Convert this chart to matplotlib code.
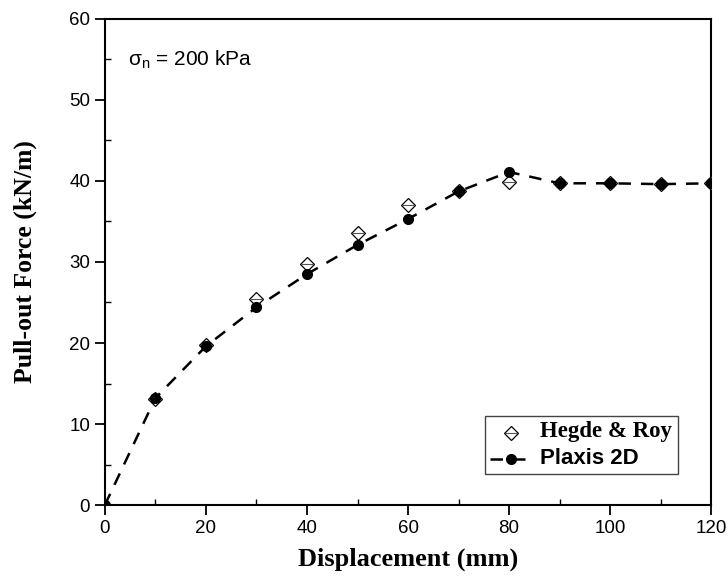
import matplotlib
matplotlib.use("Agg")
import matplotlib.pyplot as plt
from matplotlib.ticker import MultipleLocator

# data
disp_plaxis = [0, 10, 20, 30, 40, 50, 60, 70, 80, 90, 100, 110, 120]
force_plaxis = [0, 13.2, 19.6, 24.4, 28.5, 32.1, 35.3, 38.7, 41.1, 39.7, 39.7, 39.6, 39.7]
disp_hegde = [10, 20, 30, 40, 50, 60, 70, 80, 90, 100, 110, 120]
force_hegde = [13.1, 19.8, 25.4, 29.8, 33.6, 37.0, 38.8, 39.8, 39.7, 39.7, 39.6, 39.7]

fig = plt.figure(figsize=(7.28, 5.86), dpi=100)
ax = fig.add_axes([0.144, 0.138, 0.833, 0.830])

# Hegde & Roy: open diamond with a thin bar across the middle
h1, = ax.plot(disp_hegde, force_hegde, ls='none', marker='D', ms=7.5,
              mfc='white', mec='black', mew=0.9, zorder=3)
h1b, = ax.plot(disp_hegde, force_hegde, ls='none', marker='_', ms=9,
               mec='#555555', mew=0.8, zorder=3)
h2, = ax.plot(disp_plaxis, force_plaxis, ls=(0, (5, 4)), lw=1.8, color='black',
              marker='o', ms=7, mfc='black', mec='black', zorder=4)

ax.set_xlim(0, 120)
ax.set_ylim(0, 60)
ax.xaxis.set_major_locator(MultipleLocator(20))
ax.xaxis.set_minor_locator(MultipleLocator(10))
ax.yaxis.set_major_locator(MultipleLocator(10))
ax.yaxis.set_minor_locator(MultipleLocator(5))
ax.tick_params(which='major', direction='out', length=7, width=1.3,
               labelsize=13.5, top=False, right=False)
ax.tick_params(which='minor', direction='in', length=4, width=1.0,
               top=False, right=False)
for lab in ax.get_xticklabels() + ax.get_yticklabels():
    lab.set_fontfamily('Liberation Sans')
for sp in ax.spines.values():
    sp.set_linewidth(1.5)

ax.set_xlabel('Displacement (mm)', fontfamily='Liberation Serif',
              fontweight='bold', fontsize=19, labelpad=8)
ax.set_ylabel('Pull-out Force (kN/m)', fontfamily='Liberation Serif',
              fontweight='bold', fontsize=18.5, labelpad=23)

ax.text(0.038, 0.905, 'σ$_\\mathregular{n}$ = 200 kPa', transform=ax.transAxes,
        fontfamily='Liberation Sans', fontsize=15)

leg = ax.legend([(h1, h1b), h2], ['Hegde & Roy', 'Plaxis 2D'],
                loc='lower right', bbox_to_anchor=(0.945, 0.063),
                fancybox=False, edgecolor='#444444', framealpha=1,
                handlelength=3.0, borderpad=0.4, labelspacing=0.4,
                handletextpad=0.6, borderaxespad=0)
leg.get_frame().set_linewidth(1.0)
txts = leg.get_texts()
txts[0].set_fontfamily('Liberation Serif')
txts[0].set_fontweight('bold')
txts[0].set_fontsize(16.5)
txts[1].set_fontfamily('Liberation Sans')
txts[1].set_fontweight('bold')
txts[1].set_fontsize(16)

fig.savefig('out.png', dpi=100)
